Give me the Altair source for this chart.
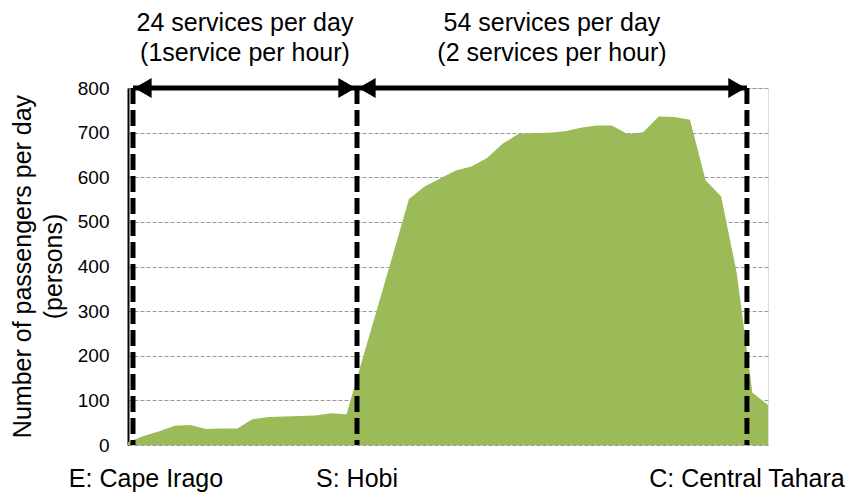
import altair as alt
import pandas as pd

# ---- data ----
stop_index = list(range(42))
passengers = [6, 20, 31, 43, 45, 36, 37, 37, 58, 63, 64, 65, 66, 71, 69,
              190, 310, 430, 551, 579, 597, 615, 624, 643, 675, 697, 699,
              700, 703, 711, 716, 716, 697, 701, 736, 735, 729, 593, 557,
              385, 117, 90]

station_names = ["E: Cape Irago", "S: Hobi", "C: Central Tahara"]
station_pos = [0.32, 14.67, 39.65]

seg_start = [0.32, 14.67]
seg_end = [14.67, 39.65]
seg_line1 = ["24 services per day", "54 services per day"]
seg_line2 = ["(1service per hour)", "(2 services per hour)"]

y_ticks = [0, 100, 200, 300, 400, 500, 600, 700, 800]

FONT = "Liberation Sans"

df = pd.DataFrame({"stop": stop_index, "passengers": passengers})
st = pd.DataFrame({"pos": station_pos, "name": station_names})
seg = pd.DataFrame({"start": seg_start, "end": seg_end,
                    "line1": seg_line1, "line2": seg_line2})
seg["mid"] = (seg["start"] + seg["end"]) / 2

xscale = alt.Scale(domain=[0, 41], nice=False, zero=False)
yscale = alt.Scale(domain=[0, 800], nice=False)

area = alt.Chart(df).mark_area(color="#9BBB59", opacity=1).encode(
    x=alt.X("stop:Q", scale=xscale,
            axis=alt.Axis(labels=False, ticks=False, grid=False, domain=True,
                          domainColor="black", domainWidth=2, title=None)),
    y=alt.Y("passengers:Q", scale=yscale,
            axis=alt.Axis(values=y_ticks, ticks=False, labelPadding=19,
                          labelFontSize=19, labelFont=FONT, labelColor="black",
                          domainColor="black", domainWidth=2,
                          grid=True, gridDash=[4, 2], gridColor="#9a9a9a",
                          gridWidth=1,
                          title=["Number of passengers per day", "(persons)"],
                          titleFont=FONT, titleFontSize=25,
                          titleFontWeight="normal", titleColor="black",
                          titleLineHeight=31, titleX=-93, titleY=178,
                          titleBaseline="bottom", titleAngle=270,
                          titleAlign="center")),
)

dashed = alt.Chart(st).mark_rule(color="black", strokeWidth=5,
                                 strokeDash=[16, 6]).encode(
    x=alt.X("pos:Q", scale=xscale, axis=None)
)

arrow_lines = alt.Chart(seg).mark_rule(color="black", strokeWidth=5).encode(
    x=alt.X("start:Q", scale=xscale, axis=None),
    x2="end:Q",
    y=alt.datum(800),
)

heads_left = alt.Chart(seg).mark_point(shape="triangle-left", size=400,
                                       filled=True, color="black", opacity=1,
                                       xOffset=10).encode(
    x=alt.X("start:Q", scale=xscale, axis=None),
    y=alt.datum(800),
)
heads_right = alt.Chart(seg).mark_point(shape="triangle-right", size=400,
                                        filled=True, color="black", opacity=1,
                                        xOffset=-10).encode(
    x=alt.X("end:Q", scale=xscale, axis=None),
    y=alt.datum(800),
)

top1 = alt.Chart(seg).mark_text(font=FONT, fontSize=25, color="black",
                                align="center", baseline="alphabetic").encode(
    x=alt.X("mid:Q", scale=xscale, axis=None),
    y=alt.value(-57),
    text="line1:N",
)
top2 = alt.Chart(seg).mark_text(font=FONT, fontSize=25, color="black",
                                align="center", baseline="alphabetic").encode(
    x=alt.X("mid:Q", scale=xscale, axis=None),
    y=alt.value(-27),
    text="line2:N",
)

lab_first = alt.Chart(st).transform_filter(
    alt.datum.name == station_names[0]
).mark_text(font=FONT, fontSize=25, color="black", align="center",
            baseline="alphabetic", dx=13).encode(
    x=alt.X("pos:Q", scale=xscale, axis=None),
    y=alt.value(399),
    text="name:N",
)
lab_rest = alt.Chart(st).transform_filter(
    alt.datum.name != station_names[0]
).mark_text(font=FONT, fontSize=25, color="black", align="center",
            baseline="alphabetic").encode(
    x=alt.X("pos:Q", scale=xscale, axis=None),
    y=alt.value(399),
    text="name:N",
)

chart = alt.layer(area, dashed, arrow_lines, heads_left, heads_right,
                  top1, top2, lab_first, lab_rest).properties(
    width=640, height=357,
    autosize=alt.AutoSizeParams(type="none"),
    padding={"left": 120, "top": 80, "right": 81, "bottom": 51},
).configure_view(stroke="black", strokeWidth=1).configure(background="white")

chart.save("out.html", embed_options={"renderer": "svg", "actions": False})
